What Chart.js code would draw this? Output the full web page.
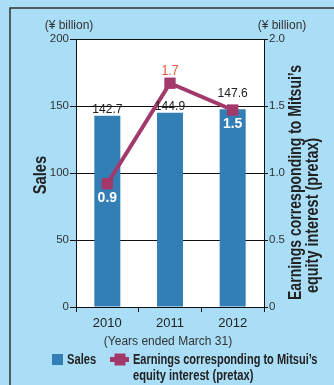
<!DOCTYPE html>
<html>
<head>
<meta charset="utf-8">
<script src="https://cdn.jsdelivr.net/npm/chart.js@4.4.1/dist/chart.umd.min.js"></script>
<style>
  html, body { margin: 0; padding: 0; background: #aadef7; }
  canvas { display: block; }
</style>
</head>
<body>
<canvas id="mitsuiChart" width="334" height="385"></canvas>
<script>
// Giá trị
const years = ['2010', '2011', '2012'];
const sales = [142.7, 144.9, 147.6];          // trục trái
const earnings = [0.92, 1.67, 1.47];          // trục phải
const salesTicks = [0, 50, 100, 150, 200];
const earningsTicks = [0, 0.5, 1.0, 1.5, 2.0];

const BG = '#aadef7';
const BLUE = '#337fb5';
const PLUM = '#a3396b';
const ORANGE = '#e6553c';
const INK = '#222';
const FONT = '"Liberation Sans", Arial, sans-serif';

Chart.defaults.font.family = FONT;
Chart.defaults.color = '#333';

// vẽ chữ, có thể xoay và nén ngang
function drawText(ctx, s, x, y, o) {
    ctx.save();
    ctx.font = o.font;
    ctx.fillStyle = o.color || INK;
    ctx.textAlign = o.align || 'left';
    ctx.textBaseline = 'alphabetic';
    ctx.translate(x, y);
    if (o.rot) ctx.rotate(o.rot);
    ctx.scale(o.sx || 1, 1);
    ctx.fillText(s, 0, 0);
    ctx.restore();
}

const decor = {
    id: 'decor',
    beforeDraw(chart) {
        const { ctx, chartArea: a } = chart;
        ctx.save();
        ctx.fillStyle = BG;
        ctx.fillRect(0, 0, chart.width, chart.height);
        ctx.fillStyle = '#fff';
        ctx.fillRect(a.left, a.top, a.right - a.left, a.bottom - a.top);
        ctx.restore();
    },
    afterDatasetsDraw(chart) {
        const ctx = chart.ctx;
        const barMeta = chart.getDatasetMeta(0);
        const lineMeta = chart.getDatasetMeta(1);

        // nhãn doanh số
        sales.forEach((v, i) => {
            const bar = barMeta.data[i];
            const pt = lineMeta.data[i];
            let top = bar.y - 3;
            if (Math.abs(pt.y - bar.y) < 12) top = Math.min(top, pt.y - 13.5);
            drawText(ctx, v.toFixed(1), bar.x, top, { font: '13px ' + FONT, align: 'center', sx: 0.93 });
        });

        // nhãn lợi nhuận
        earnings.forEach((v, i) => {
            const bar = barMeta.data[i];
            const pt = lineMeta.data[i];
            if (pt.y > bar.y) {
                drawText(ctx, v.toFixed(1), pt.x, pt.y + 18, { font: 'bold 14px ' + FONT, color: '#fff', align: 'center' });
            } else {
                drawText(ctx, v.toFixed(1), pt.x, pt.y - 8, { font: '14px ' + FONT, color: ORANGE, align: 'center', sx: 0.88 });
            }
        });
    },
    afterDraw(chart) {
        const ctx = chart.ctx;

        // khung ngoài
        ctx.save();
        ctx.strokeStyle = '#333';
        ctx.lineWidth = 1.5;
        ctx.beginPath();
        ctx.moveTo(10, chart.height);
        ctx.lineTo(10, 8);
        ctx.lineTo(chart.width, 8);
        ctx.stroke();
        ctx.restore();

        // đơn vị
        drawText(ctx, '(¥ billion)', 69, 29, { font: '12px ' + FONT, color: '#333', align: 'center' });
        drawText(ctx, '(¥ billion)', 282, 29, { font: '12px ' + FONT, color: '#333', align: 'center' });

        // tiêu đề trục
        const bold18 = 'bold 18px ' + FONT;
        drawText(ctx, 'Sales', 46, 175, { font: bold18, align: 'center', rot: -Math.PI / 2, sx: 0.82 });
        drawText(ctx, 'Earnings corresponding to Mitsui\u2019s', 301, 300, { font: bold18, rot: -Math.PI / 2, sx: 0.78 });
        drawText(ctx, 'equity interest (pretax)', 318, 293, { font: bold18, rot: -Math.PI / 2, sx: 0.8 });

        drawText(ctx, '(Years ended March 31)', 168, 345, { font: '12px ' + FONT, color: '#333', align: 'center' });

        // chú thích
        ctx.save();
        ctx.fillStyle = BLUE;
        ctx.fillRect(52, 354, 11, 11);
        ctx.strokeStyle = PLUM;
        ctx.lineWidth = 5;
        ctx.beginPath();
        ctx.moveTo(110, 359.5);
        ctx.lineTo(129, 359.5);
        ctx.stroke();
        ctx.fillStyle = PLUM;
        ctx.fillRect(114.5, 353.5, 11, 12);
        ctx.restore();

        const legFont = 'bold 14.5px ' + FONT;
        drawText(ctx, 'Sales', 67, 364, { font: legFont, sx: 0.77 });
        drawText(ctx, 'Earnings corresponding to Mitsui\u2019s', 133, 364, { font: legFont, sx: 0.76 });
        drawText(ctx, 'equity interest (pretax)', 133, 380, { font: legFont, sx: 0.77 });
    }
};

new Chart(document.getElementById('mitsuiChart'), {
    data: {
        labels: years,
        datasets: [
            {
                type: 'bar',
                label: 'Sales',
                data: sales,
                backgroundColor: BLUE,
                yAxisID: 'y',
                barPercentage: 0.415,
                categoryPercentage: 1,
                order: 2
            },
            {
                type: 'line',
                label: 'Earnings corresponding to Mitsui\u2019s equity interest (pretax)',
                data: earnings,
                borderColor: PLUM,
                borderWidth: 4,
                backgroundColor: PLUM,
                pointStyle: 'rect',
                pointRadius: 8,
                pointBorderWidth: 0,
                pointBackgroundColor: PLUM,
                yAxisID: 'y1',
                order: 1
            }
        ]
    },
    options: {
        responsive: false,
        animation: false,
        devicePixelRatio: 1,
        layout: { padding: { top: 39, left: 0, right: 0, bottom: 0 } },
        plugins: {
            legend: { display: false },
            tooltip: { enabled: false }
        },
        scales: {
            x: {
                grid: { display: true, drawOnChartArea: false, tickLength: 5, color: '#111', offset: true },
                border: { color: '#111' },
                ticks: { font: { size: 13 }, color: INK, padding: 4 },
                afterFit: s => { s.height = 78; }
            },
            y: {
                position: 'left',
                min: 0,
                max: 200,
                afterBuildTicks: s => { s.ticks = salesTicks.map(v => ({ value: v })); },
                grid: { color: '#111', tickLength: 6 },
                border: { color: '#111' },
                ticks: { font: { size: 11.5 }, color: '#333', padding: 1 },
                afterFit: s => { s.width = 76; }
            },
            y1: {
                position: 'right',
                min: 0,
                max: 2,
                afterBuildTicks: s => { s.ticks = earningsTicks.map(v => ({ value: v })); },
                grid: { drawOnChartArea: false, color: '#111', tickLength: 4 },
                border: { color: '#111' },
                ticks: {
                    font: { size: 11.5 },
                    color: '#333',
                    padding: 1,
                    callback: v => (v === 0 ? '0' : v.toFixed(1))
                },
                afterFit: s => { s.width = 70; }
            }
        }
    },
    plugins: [decor]
});
</script>
</body>
</html>
